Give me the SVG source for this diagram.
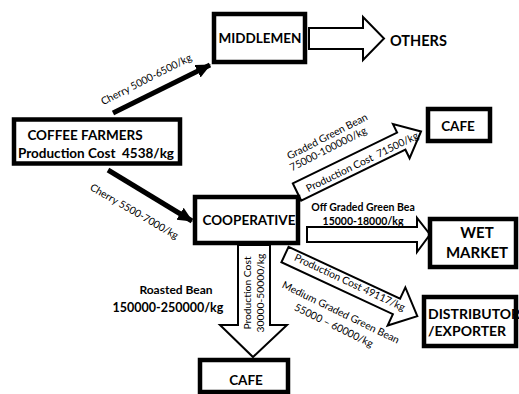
<svg xmlns="http://www.w3.org/2000/svg" width="519" height="394" viewBox="0 0 519 394">
  <style>
    .box { fill: #ffffff; stroke: #000000; stroke-width: 4.5; }
    .block { fill: #ffffff; stroke: #000000; stroke-width: 2; stroke-linejoin: miter; }
    .line { fill: none; stroke: #000000; stroke-width: 5; }
    .node { font-family: Lato, "Liberation Sans", sans-serif; font-weight: bold; fill: #000000; }
    .lbl { font-family: Lato, "Liberation Sans", sans-serif; font-size: 10.3px; fill: #000000; }
    .b { font-weight: bold; font-size: 10.5px; }
  </style>
  <defs>
    <marker id="head" markerUnits="userSpaceOnUse" markerWidth="16" markerHeight="16" refX="14" refY="7" orient="auto">
      <path d="M0,0 L15,7 L0,14 Z" fill="#000000"/>
    </marker>
  </defs>
  <rect width="519" height="394" fill="#ffffff"/>

  <!-- connectors -->
  <g id="connectors">
    <line class="line" x1="113" y1="113" x2="210" y2="65" marker-end="url(#head)"/>
    <line class="line" x1="108" y1="170" x2="192" y2="221" marker-end="url(#head)"/>
    <!-- middlemen to others -->
    <polygon class="block" points="309,28 363,28 363,17 384,38.5 363,60 363,49 309,49"/>
    <!-- cooperative to cafe (upper) -->
    <polygon class="block" transform="translate(297,192) rotate(-26)" points="0,-9.5 116,-9.5 116,-19 138,0 116,19 116,9.5 0,9.5"/>
    <!-- cooperative to wet market -->
    <polygon class="block" points="307,227 417,227 417,218 430,234.5 417,252 417,242 307,242"/>
    <!-- cooperative to distributor -->
    <polygon class="block" transform="translate(285,254.5) rotate(25)" points="0,-8.5 123,-8.5 123,-21 146,0 123,21 123,8.5 0,8.5"/>
    <!-- cooperative to cafe (lower) -->
    <polygon class="block" points="238,245 238,325 220,325 253,357 287,325 270,325 270,245"/>

    <!-- connector labels -->
    <text class="lbl" transform="translate(146,79) rotate(-27)" text-anchor="middle" dominant-baseline="central">Cherry 5000-6500/kg</text>
    <text class="lbl" transform="translate(134.5,211) rotate(30)" text-anchor="middle" dominant-baseline="central">Cherry 5500-7000/kg</text>
    <text class="lbl" transform="translate(327,136) rotate(-27)" text-anchor="middle" dominant-baseline="central">Graded Green Bean</text>
    <text class="lbl" transform="translate(328,148.5) rotate(-27)" text-anchor="middle" dominant-baseline="central">75000-100000/kg</text>
    <text class="lbl" xml:space="preserve" transform="translate(362,161.5) rotate(-26)" text-anchor="middle" dominant-baseline="central">Production Cost  71500/kg</text>
    <text class="lbl b" x="363" y="207" text-anchor="middle" dominant-baseline="central">Off Graded Green Bea</text>
    <text class="lbl b" x="363" y="221" text-anchor="middle" dominant-baseline="central">15000-18000/kg</text>
    <text class="lbl" transform="translate(350,282) rotate(25)" text-anchor="middle" dominant-baseline="central">Production Cost 49117/kg</text>
    <text class="lbl" transform="translate(341,312) rotate(26)" text-anchor="middle" dominant-baseline="central">Medium Graded Green Bean</text>
    <text class="lbl" transform="translate(334,325) rotate(26)" text-anchor="middle" dominant-baseline="central">55000 – 60000/kg</text>
    <text class="lbl" transform="translate(247,293) rotate(-90)" text-anchor="middle" dominant-baseline="central">Production Cost</text>
    <text class="lbl" transform="translate(260,293) rotate(-90)" text-anchor="middle" dominant-baseline="central">30000-50000/kg</text>
    <text class="node" x="176" y="289" font-size="12" text-anchor="middle" dominant-baseline="central">Roasted Bean</text>
    <text class="node" x="168" y="307" font-size="12.5" text-anchor="middle" dominant-baseline="central">150000-250000/kg</text>
  </g>

  <g id="coffee-farmers">
    <rect class="box" x="14" y="119.5" width="166" height="44"/>
    <text class="node" x="85" y="135" font-size="13.5" text-anchor="middle" dominant-baseline="central">COFFEE FARMERS</text>
    <text class="node" xml:space="preserve" x="96" y="153" font-size="13.5" text-anchor="middle" dominant-baseline="central">Production Cost  4538/kg</text>
  </g>

  <g id="middlemen">
    <rect class="box" x="214" y="14" width="91" height="48"/>
    <text class="node" x="260" y="38" font-size="13.5" text-anchor="middle" dominant-baseline="central">MIDDLEMEN</text>
  </g>

  <g id="others">
    <text class="node" x="390" y="40" font-size="14.5" dominant-baseline="central">OTHERS</text>
  </g>

  <g id="cafe-top">
    <rect class="box" x="428" y="109" width="62" height="32"/>
    <text class="node" x="458" y="126" font-size="13.5" text-anchor="middle" dominant-baseline="central">CAFE</text>
  </g>

  <g id="cooperative">
    <rect class="box" x="195" y="197" width="103" height="46"/>
    <text class="node" x="249" y="220" font-size="13.5" text-anchor="middle" dominant-baseline="central">COOPERATIVE</text>
  </g>

  <g id="wet-market">
    <rect class="box" x="430" y="219" width="86" height="48"/>
    <text class="node" x="477" y="232" font-size="15" text-anchor="middle" dominant-baseline="central">WET</text>
    <text class="node" x="477" y="252" font-size="15" text-anchor="middle" dominant-baseline="central">MARKET</text>
  </g>

  <g id="distributor-exporter">
    <rect class="box" x="424" y="297" width="92" height="49"/>
    <text class="node" x="428" y="313" font-size="14" dominant-baseline="central">DISTRIBUTOR</text>
    <text class="node" x="428" y="330" font-size="14" dominant-baseline="central">/EXPORTER</text>
  </g>

  <g id="cafe-bottom">
    <rect class="box" x="200" y="360" width="88" height="32"/>
    <text class="node" x="246" y="380" font-size="13.5" text-anchor="middle" dominant-baseline="central">CAFE</text>
  </g>
</svg>
